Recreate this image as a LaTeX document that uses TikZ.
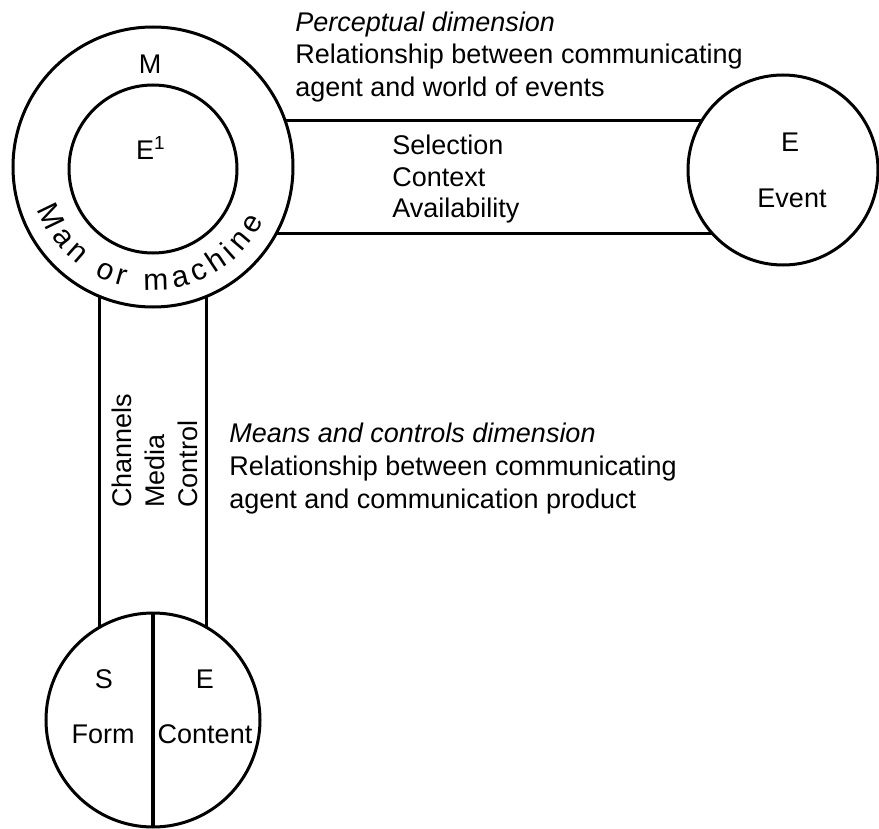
\documentclass[tikz,border=0pt]{standalone}
\usepackage{fontspec}
\setmainfont{Liberation Sans}
\usetikzlibrary{calc,backgrounds,decorations.text}

\newcommand{\diagfont}{\fontsize{13.5}{16.5}\selectfont}
\newcommand{\arcfont}{\fontsize{15}{18}\selectfont}

\tikzset{
    ring/.style={draw, circle, fill=white, line width=1.5pt, inner sep=0pt, outer sep=0pt},
    band/.style={line width=1.5pt},
    lbl/.style={anchor=base, inner sep=0pt, font=\diagfont},
    note/.style={anchor=base west, inner sep=0pt, font=\diagfont},
    dimnote/.style={note, font=\diagfont\itshape}
}

\begin{document}
\begin{tikzpicture}[x=0.5pt, y=0.5pt]
    \useasboundingbox (0,0) rectangle (879,-829);

                % Circles
                \node[ring, minimum size=140pt] (M) at (153,-167) {};
                \node[ring, minimum size=84pt] (m1) at (153,-169) {};
                \node[ring, minimum size=95pt] (E) at (783,-170) {};
                \node[ring, minimum size=107pt] (S) at (153,-720) {};
                \draw[line width=2pt] (S.north) -- (S.south);

                % Channels
                \begin{scope}[on background layer]
                \draw[band] ($(M.center)+(0,46)$) -- ($(E.center)+(0,49)$);
                \draw[band] ($(M.center)+(0,-67)$) -- ($(E.center)+(0,-64)$);
                \draw[band] ($(M.center)+(-54,0)$) -- ($(S.center)+(-54,0)$);
                \draw[band] ($(M.center)+(53,0)$) -- ($(S.center)+(53,0)$);
                \end{scope}

                \node[lbl] (mlab) at (150,-74) {M};
                \node[lbl] (e1lab) at (151,-160) {E\textsuperscript{1}};
                \node[lbl] (elab) at (790,-152) {E};
                \node[lbl] (event) at (792,-207) {Event};
                \node[lbl] (slab) at (104,-688) {S};
                \node[lbl] (e2lab) at (205,-688) {E};
                \node[lbl] (form) at (103,-743) {Form};
                \node[lbl] (content) at (205,-743) {Content};

                \path[decorate, decoration={text along path, text align={fit to path},
                    text={|\arcfont|Man or machine}}]
                    ($(M.center)+(200:123)$) arc[start angle=200, end angle=334, radius=123];

                % Perceptual dimension
                \node[dimnote] (pd1) at (295,-32) {Perceptual dimension};
                \node[note] (pd2) at (295,-64) {Relationship between communicating};
                \node[note] (pd3) at (295,-97) {agent and world of events};
                \node[note] (sel) at (392,-155) {Selection};
                \node[note] (ctx) at (392,-187) {Context};
                \node[note] (avl) at (392,-218) {Availability};

                % Means and controls dimension
                \node[dimnote] (mc1) at (229,-442) {Means and controls dimension};
                \node[note] (mc2) at (229,-475) {Relationship between communicating};
                \node[note] (mc3) at (229,-508) {agent and communication product};
                \node[note, rotate=90] (chn) at (131,-508) {Channels};
                \node[note, rotate=90] (med) at (164,-508) {Media};
                \node[note, rotate=90] (ctl) at (197,-508) {Control};

\end{tikzpicture}
\end{document}
